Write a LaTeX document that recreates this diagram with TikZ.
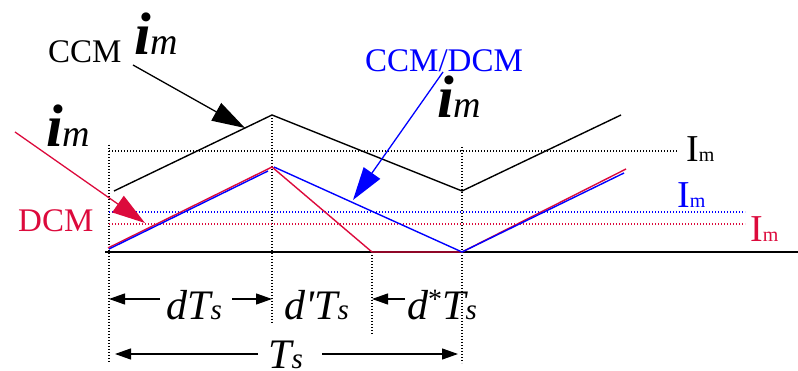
\documentclass[tikz,border=0pt]{standalone}
\usepackage{fontspec}
\setmainfont{Liberation Serif}
\usetikzlibrary{arrows.meta,positioning}
\definecolor{dcmred}{RGB}{220,10,60}
\definecolor{ccmblue}{RGB}{0,0,255}
\tikzset{
  wave/.style={line width=1.4pt},
  axisline/.style={line width=1.8pt},
  guide/.style={line width=1.1pt, dash pattern=on 1.1pt off 1.9pt},
  pointer/.style={line width=1.3pt, -{Triangle[length=33pt,width=20pt]}},
  dimline/.style={line width=1.2pt, -{Triangle[length=16pt,width=11pt]}},
  lbl/.style={anchor=base west, inner sep=0pt, font=\fontsize{33}{36}\selectfont},
  sym/.style={anchor=base west, inner sep=0pt}
}
\newcommand{\imvar}{{\fontsize{60}{62}\selectfont\bfseries\itshape i}{\fontsize{38}{40}\selectfont\itshape m}}
\newcommand{\Imlevel}{{\fontsize{38}{40}\selectfont I}{\fontsize{20}{22}\selectfont m}}
\newcommand{\dimtxt}[1]{{\fontsize{42}{44}\selectfont\itshape #1}}
\newcommand{\subs}{{\fontsize{29}{31}\selectfont\itshape s}}

\begin{document}
\begin{tikzpicture}[x=1pt, y=-1pt]
  \useasboundingbox (0,0) rectangle (798,371);

  % waveform corners
  \coordinate (k0) at (114,191);
  \coordinate (k1) at (272,115);
  \coordinate (k2) at (462,191);
  \coordinate (k3) at (621,115);
  \coordinate (r0) at (108,248);
  \coordinate (r1) at (272,167);
  \coordinate (r2) at (372,252);
  \coordinate (r3) at (462,252);
  \coordinate (r4) at (626,169);
  \coordinate (b0) at (109,249);
  \coordinate (b1) at (268,171);
  \coordinate (b2) at (274,167);
  \coordinate (b3) at (462,252);
  \coordinate (b4) at (624,173);

  % axis and guides
  \coordinate (ax0) at (105,252);
  \coordinate (ax1) at (798,252);
  \draw[axisline] (ax0) -- (ax1);

  \draw[guide] (109,145) coordinate (v1t) -- (109,363) coordinate (v1b);
  \draw[guide] (272,115) coordinate (v2t) -- (272,323) coordinate (v2b);
  \draw[guide] (372,252) coordinate (v3t) -- (372,335) coordinate (v3b);
  \draw[guide] (462,147) coordinate (v4t) -- (462,363) coordinate (v4b);

  \draw[guide] (109,151) coordinate (hk0) -- (677,151) coordinate (hk1);
  \draw[guide, ccmblue] (109,212) coordinate (hb0) -- (745,212) coordinate (hb1);
  \draw[guide, dcmred] (109,224) coordinate (hr0) -- (745,224) coordinate (hr1);

  % currents
  \draw[wave] (k0) -- (k1) -- (k2) -- (k3);
  \draw[wave, dcmred] (r0) -- (r1) -- (r2) -- (r3) -- (r4);
  \draw[wave, ccmblue] (b0) -- (b1);
  \draw[wave, ccmblue] (b2) -- (b3) -- (b4);

  % labels
  \node[lbl] (ccm) at (48,63) {CCM};
  \node[sym] (imccm) at (134,55) {\imvar};
  \node[sym] (imdcm) at (46,147) {\imvar};
  \node[lbl, text=dcmred] (dcm) at (18,232) {DCM};
  \node[lbl, text=ccmblue] (bnd) at (365,72) {CCM/DCM};
  \node[sym] (imbnd) at (437,118) {\imvar};

  \node[sym] (Ik) at (686,162) {\Imlevel};
  \node[sym, text=ccmblue] (Ib) at (677,208) {\Imlevel};
  \node[sym, text=dcmred] (Ir) at (750,242) {\Imlevel};

  \coordinate (ccmtail) at (133,65);
  \coordinate (ccmtip) at (245,128);
  \coordinate (dcmtail) at (15,132);
  \coordinate (dcmtip) at (145,223);
  \coordinate (bndtail) at (443,72);
  \coordinate (bndtip) at (353,200);
  \draw[pointer] (ccmtail) -- (ccmtip);
  \draw[pointer, dcmred] (dcmtail) -- (dcmtip);
  \draw[pointer, ccmblue] (bndtail) -- (bndtip);

  % time intervals
  \node[sym] (dts) at (166,320) {\dimtxt{d}\dimtxt{T}\subs};
  \node[sym] (dpts) at (284,320) {\dimtxt{d\textquotesingle T}\subs};
  \node[sym] (dsts) at (407,320) {\dimtxt{d}\raisebox{11pt}{\fontsize{28}{30}\selectfont *}\dimtxt{T}\subs};
  \node[sym] (ts) at (268,369) {\dimtxt{T}\subs};

  \draw[dimline] (160,299) coordinate (a1) -- (109,299) coordinate (a1t);
  \draw[dimline] (232,299) coordinate (a2) -- (272,299) coordinate (a2t);
  \draw[dimline] (405,299) coordinate (a3) -- (372,299) coordinate (a3t);
  \draw[dimline] (258,354) coordinate (a4) -- (115,354) coordinate (a4t);
  \draw[dimline] (322,354) coordinate (a5) -- (458,354) coordinate (a5t);
\end{tikzpicture}
\end{document}
